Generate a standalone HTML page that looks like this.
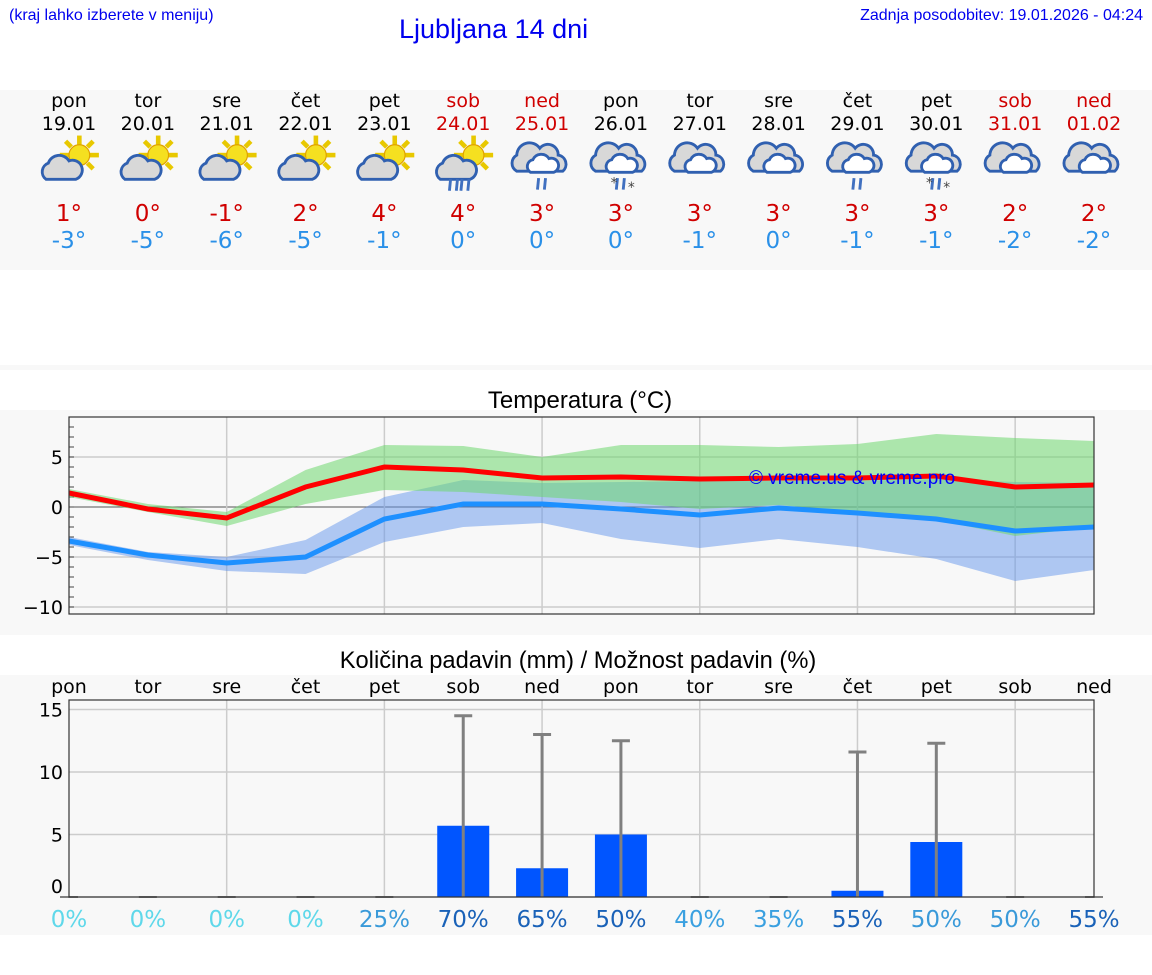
<!DOCTYPE html>
<html><head><meta charset="utf-8">
<style>
body{margin:0;width:1152px;height:975px;background:#fff;font-family:"DejaVu Sans","Liberation Sans",sans-serif;position:relative;overflow:hidden}
.a{position:absolute}
</style></head>
<body>
<div class="a" style="left:9px;top:7px;font:16px 'Liberation Sans',sans-serif;color:#0000ee">(kraj lahko izberete v meniju)</div>
<div class="a" style="left:399px;top:14px;font:27px 'Liberation Sans',sans-serif;color:#0000ee">Ljubljana 14 dni</div>
<div class="a" style="right:9px;top:7px;font:16px 'Liberation Sans',sans-serif;color:#0000ee">Zadnja posodobitev: 19.01.2026 - 04:24</div>
<svg class="a" style="left:0;top:0" width="1152" height="975">
<defs>
<g id="sun"><g stroke="#e8c800" stroke-width="4" stroke-linecap="butt">
<line x1="0" y1="-17" x2="0" y2="-9"/><line x1="12" y1="-12" x2="7" y2="-7"/><line x1="17" y1="0" x2="9" y2="0"/><line x1="12" y1="12" x2="7" y2="7"/><line x1="-12" y1="-12" x2="-7" y2="-7"/><line x1="-17" y1="0" x2="-9" y2="0"/><line x1="0" y1="17" x2="0" y2="9"/></g>
<circle r="9" fill="#f5e020" stroke="#e0a000" stroke-width="1"/></g>
<g id="cl"><path d="M-18,8 a8,8 0 0 1 2,-14 a10,10 0 0 1 18,-2 a8,8 0 0 1 6,16 z" fill="#d8d8d8" stroke="#3060b0" stroke-width="2.5"/></g>
<g id="bigcl"><path d="M-22,10 a8,8 0 0 1 0,-14 a11,11 0 0 1 20,-6 a9,9 0 0 1 16,6 a8,8 0 0 1 4,14 z" fill="#d8d8d8" stroke="#3060b0" stroke-width="2.5"/><path d="M-10,11 a6,6 0 0 1 2,-11 a8,8 0 0 1 14,-1 a6,6 0 0 1 4,12 z" fill="#fff" stroke="#3060b0" stroke-width="2.5"/></g>
<g id="rain"><g stroke="#4070c0" stroke-width="2.5"><line x1="-3" y1="0" x2="-4" y2="10"/><line x1="3" y1="0" x2="2" y2="10"/></g></g>
</defs>
<rect x="0" y="90" width="1152" height="180" fill="#f8f8f8"/>
<rect x="0" y="365" width="1152" height="5" fill="#f8f8f8"/>
<rect x="0" y="410" width="1152" height="225" fill="#f8f8f8"/>
<rect x="0" y="675" width="1152" height="260" fill="#f8f8f8"/>
<g id="days"></g>
<g id="temp"></g>
<g id="prec"></g>
</svg>
<script>
const NS="http://www.w3.org/2000/svg";
const dayNames=["pon","tor","sre","čet","pet","sob","ned","pon","tor","sre","čet","pet","sob","ned"];
const dates=["19.01","20.01","21.01","22.01","23.01","24.01","25.01","26.01","27.01","28.01","29.01","30.01","31.01","01.02"];
const icons=["ps","ps","ps","ps","ps","psr","cr","crs","c","c","cr","crs","c","c"];
const tMaxDay=[1,0,-1,2,4,4,3,3,3,3,3,3,2,2];
const tMinDay=[-3,-5,-6,-5,-1,0,0,0,-1,0,-1,-1,-2,-2];
const tMax=[1.4,-0.2,-1.1,2.0,4.0,3.7,2.9,3.0,2.8,2.9,2.9,3.1,2.0,2.2];
const tMaxHi=[1.8,0.3,-0.5,3.7,6.2,6.1,5.0,6.2,6.2,6.0,6.3,7.3,6.9,6.6];
const tMaxLo=[1.0,-0.5,-1.9,0.3,1.7,1.5,1.0,0.5,-0.2,0.2,-0.5,-1.3,-2.9,-2.0];
const tMin=[-3.4,-4.8,-5.6,-5.0,-1.2,0.3,0.3,-0.2,-0.8,-0.1,-0.6,-1.2,-2.4,-2.0];
const tMinHi=[-3.0,-4.5,-5.0,-3.3,1.0,2.7,2.4,2.5,2.6,2.6,2.6,2.8,2.5,2.4];
const tMinLo=[-3.8,-5.3,-6.4,-6.7,-3.5,-2.0,-1.6,-3.2,-4.1,-3.2,-4.0,-5.2,-7.4,-6.3];
const precip=[0,0,0,0,0,5.7,2.3,5.0,0,0,0.5,4.4,0,0];
const precipMax=[0,0,0,0,0,14.5,13.0,12.5,0,0,11.6,12.3,0,0];
const chance=[0,0,0,0,25,70,65,50,40,35,55,50,50,55];
const chanceCol=["#5fd8ea","#5fd8ea","#5fd8ea","#5fd8ea","#3a9ad9","#1a62b8","#1a62b8","#1a62b8","#3aa0e0","#3aa0e0","#1a62b8","#3a9ad9","#3a9ad9","#1a62b8"];
const tempTicks=[5,0,-5,-10];
const precTicks=[15,10,5,0];
const X0=69,X1=1094;
const xs=i=>X0+i*(X1-X0)/13;
const ty=v=>507-v*10;
const py=v=>897-v*12.5;
function el(tag,attrs,parent,txt){const e=document.createElementNS(NS,tag);for(const k in attrs)e.setAttribute(k,attrs[k]);if(txt!==undefined)e.textContent=txt;parent.appendChild(e);return e;}
const days=document.getElementById('days');
dayNames.forEach((d,i)=>{
  const x=xs(i),wk=(d==="sob"||d==="ned");
  const t1=el('text',{x:x,y:107,'text-anchor':'middle','font-size':19,fill:wk?'#d00000':'#000'},days,d);
  
  
  const t2=el('text',{x:x,y:130,'text-anchor':'middle','font-size':19,fill:wk?'#d00000':'#000'},days,dates[i]);
  
  
  const g=el('g',{transform:`translate(${x},162) scale(1.15)`},days);
  
  
  const ic=icons[i];
  if(ic[0]==='p'){el('use',{href:'#sun',x:9,y:-6},g);el('use',{href:'#cl',x:-2,y:7},g);if(ic==='psr'){el('use',{href:'#rain',x:-8,y:15},g);el('use',{href:'#rain',x:2,y:15},g);}}
  else{el('use',{href:'#bigcl',x:0,y:-2},g);if(ic.includes('r'))el('use',{href:'#rain',x:0,y:14},g);if(ic==='crs'){el('text',{x:-9,y:22,'font-size':12,fill:'#444'},g,'*');el('text',{x:6,y:26,'font-size':12,fill:'#444'},g,'*');}}
  const a=el('text',{x:x,y:221,'text-anchor':'middle','font-size':23,fill:'#d00000'},days,tMaxDay[i]+'°');
  
  
  const b=el('text',{x:x,y:248,'text-anchor':'middle','font-size':23,fill:'#2a90e8'},days,tMinDay[i]+'°');
  
  
});
const T=document.getElementById('temp');
const tt=el('text',{x:580,y:408,'text-anchor':'middle','font-size':24,'font-family':'Liberation Sans'},T,'Temperatura (°C)');


el('rect',{x:X0,y:417,width:X1-X0,height:197,fill:'#f8f8f8'},T);
tempTicks.forEach(v=>{el('line',{x1:X0,x2:X1,y1:ty(v),y2:ty(v),stroke:v===0?'#555':'#ccc','stroke-width':v===0?1:1.5},T);
  const l=el('text',{x:63,y:ty(v)+7,'text-anchor':'end','font-size':19},T,v<0?'−'+(-v):v);
  
  });
for(let v=-10;v<=9;v++)el('line',{x1:X0,x2:X0+5,y1:ty(v),y2:ty(v),stroke:'#444'},T);
for(let i=2;i<13;i+=2)el('line',{x1:xs(i),x2:xs(i),y1:417,y2:614,stroke:'#ccc','stroke-width':1.5},T);
function band(hi,lo,fill,name){const p=hi.map((v,i)=>`${xs(i)},${ty(v)}`).concat(lo.map((v,i)=>`${xs(i)},${ty(v)}`).reverse());const e=el('polygon',{points:p.join(' '),fill:fill},T);}
band(tMinHi,tMinLo,'rgba(100,150,235,0.5)','min-temp-range');
band(tMaxHi,tMaxLo,'rgba(110,215,110,0.55)','max-temp-range');
function line(v,c,name){const e=el('polyline',{points:v.map((y,i)=>`${xs(i)},${ty(y)}`).join(' '),fill:'none',stroke:c,'stroke-width':5},T);}
line(tMax,'#ff0000','max-temp-line');
line(tMin,'#1e90ff','min-temp-line');
el('rect',{x:X0,y:417,width:X1-X0,height:197,fill:'none',stroke:'#333','stroke-width':1.2},T);
const wm=el('text',{x:749,y:484,'font-size':19,fill:'#0000ff','font-family':'Liberation Sans'},T,'© vreme.us & vreme.pro');


const P=document.getElementById('prec');
const pt=el('text',{x:578,y:668,'text-anchor':'middle','font-size':23.7,'font-family':'Liberation Sans'},P,'Količina padavin (mm) / Možnost padavin (%)');


dayNames.forEach((d,i)=>{const t=el('text',{x:xs(i),y:693,'text-anchor':'middle','font-size':19},P,d);});
precTicks.forEach(v=>{el('line',{x1:X0,x2:X1,y1:py(v),y2:py(v),stroke:'#ccc','stroke-width':1.5},P);
  const l=el('text',{x:63,y:(v===0?py(v)-4:py(v)+7),'text-anchor':'end','font-size':19},P,v);
  
  });
for(let i=2;i<13;i+=2)el('line',{x1:xs(i),x2:xs(i),y1:700,y2:897,stroke:'#ccc','stroke-width':1.5},P);
precip.forEach((v,i)=>{
  const x=xs(i);
  if(v>0){const r=el('rect',{x:x-26,y:py(v),width:52,height:897-py(v),fill:'#0055ff'},P);}
  if(precipMax[i]>0){const e=el('line',{x1:x,x2:x,y1:py(precipMax[i]),y2:897,stroke:'#808080','stroke-width':3},P);
    el('line',{x1:x-9,x2:x+9,y1:py(precipMax[i]),y2:py(precipMax[i]),stroke:'#808080','stroke-width':3},P);}
  else el('line',{x1:x-9,x2:x+9,y1:897,y2:897,stroke:'#808080','stroke-width':2},P);
  const c=el('text',{x:x,y:927,'text-anchor':'middle','font-size':23,fill:chanceCol[i]},P,chance[i]+'%');
  
  
});
el('rect',{x:X0,y:700,width:X1-X0,height:197,fill:'none',stroke:'#333','stroke-width':1.2},P);
</script>
</body></html>
